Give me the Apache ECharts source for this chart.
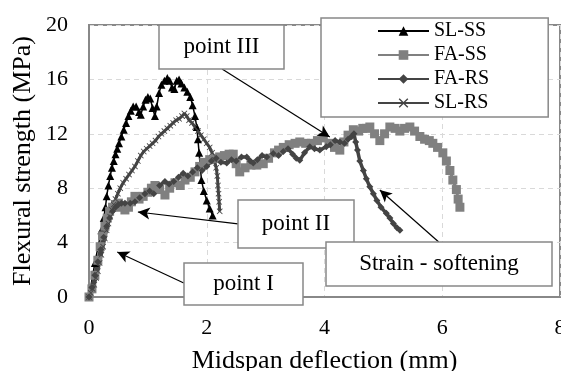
<!DOCTYPE html>
<html>
<head>
<meta charset="utf-8">
<script src="https://cdn.jsdelivr.net/npm/echarts@6/dist/echarts.min.js"></script>
<style>
  html, body { margin: 0; padding: 0; background: #fff; }
  #charts { width: 561px; height: 371px; }
</style>
</head>
<body>
<div id="charts"></div>
<script>
// axis ticks
var xTicks = [0, 2, 4, 6, 8];
var yTicks = [0, 4, 8, 12, 16, 20];

var names = ['SL-SS', 'FA-SS', 'FA-RS', 'SL-RS'];

// [deflection mm, strength MPa]
var slSS = [[0,0],[0.1,2.5],[0.21,4.9],[0.25,5.8],[0.28,6.6],[0.3,7.4],[0.33,8.2],[0.36,8.9],[0.39,9.5],[0.42,10.0],
  [0.45,10.5],[0.48,10.9],[0.51,11.3],[0.55,11.8],[0.59,12.3],[0.63,12.8],[0.67,13.3],[0.71,13.7],[0.75,14.0],[0.8,14.0],
  [0.85,13.6],[0.88,13.4],[0.92,14.0],[0.96,14.5],[1.0,14.7],[1.04,14.6],[1.08,13.9],[1.12,13.3],[1.15,14.0],[1.19,15.0],
  [1.23,15.6],[1.28,15.9],[1.33,16.1],[1.37,15.9],[1.41,15.4],[1.45,15.3],[1.49,15.9],[1.53,16.0],[1.57,15.7],[1.62,15.4],
  [1.67,15.1],[1.72,14.7],[1.76,14.1],[1.8,13.3],[1.83,12.5],[1.85,11.6],[1.87,10.6],[1.89,9.6],[1.91,8.6],[1.95,7.8],
  [2.0,7.1],[2.05,6.5],[2.1,6.0]];

var faSS = [[0,0],[0.05,0.6],[0.1,1.6],[0.15,2.7],[0.19,3.7],[0.23,4.5],[0.27,5.2],[0.31,5.8],[0.35,6.3],[0.4,6.6],
  [0.45,6.8],[0.5,6.9],[0.55,6.6],[0.61,6.4],[0.67,6.6],[0.72,7.0],[0.78,7.4],[0.85,7.2],[0.92,7.4],[1.0,7.7],
  [1.06,8.0],[1.12,8.2],[1.2,7.9],[1.29,7.5],[1.37,8.0],[1.46,8.4],[1.55,8.2],[1.63,8.6],[1.72,8.8],[1.8,9.2],
  [1.88,9.6],[1.95,9.9],[2.05,10.1],[2.15,10.2],[2.22,10.3],[2.3,10.4],[2.38,10.5],[2.45,10.5],[2.5,9.8],[2.56,9.2],
  [2.65,9.5],[2.75,9.7],[2.85,9.7],[2.96,9.8],[3.05,10.2],[3.15,10.6],[3.22,10.8],[3.3,11.0],[3.4,11.2],[3.5,11.3],
  [3.58,11.4],[3.68,11.3],[3.78,11.3],[3.88,11.5],[3.98,11.7],[4.08,11.3],[4.17,11.0],[4.26,10.8],[4.33,11.4],[4.4,11.9],
  [4.49,12.3],[4.58,12.2],[4.65,12.4],[4.71,12.4],[4.77,12.5],[4.85,12.0],[4.94,11.5],[5.02,12.0],[5.11,12.5],[5.2,12.4],
  [5.28,12.2],[5.36,12.4],[5.45,12.5],[5.53,12.2],[5.62,11.8],[5.7,11.6],[5.78,11.5],[5.84,11.3],[5.92,11.0],[6.01,10.6],
  [6.07,10.0],[6.13,9.3],[6.18,8.6],[6.24,7.9],[6.27,7.2],[6.3,6.6]];

var faRS = [[0,0],[0.05,0.7],[0.1,1.6],[0.15,2.6],[0.2,3.5],[0.25,4.4],[0.3,5.2],[0.35,5.8],[0.4,6.3],[0.45,6.6],
  [0.5,6.8],[0.55,6.9],[0.61,6.9],[0.7,6.9],[0.78,7.0],[0.86,7.3],[0.95,7.6],[1.03,7.8],[1.1,7.6],[1.2,8.2],
  [1.29,8.5],[1.36,8.3],[1.44,8.5],[1.52,8.8],[1.6,9.1],[1.68,8.9],[1.76,9.2],[1.84,9.5],[1.92,9.3],[2.0,9.6],
  [2.08,10.0],[2.16,10.2],[2.24,9.9],[2.34,9.85],[2.42,10.1],[2.5,10.0],[2.59,10.3],[2.68,10.3],[2.74,10.0],[2.79,9.85],
  [2.86,10.1],[2.94,10.4],[3.02,10.3],[3.13,10.55],[3.22,10.4],[3.3,10.7],[3.38,10.9],[3.46,10.5],[3.52,10.2],[3.58,10.05],
  [3.66,10.6],[3.75,11.05],[3.83,10.9],[3.92,10.8],[4.03,11.05],[4.1,11.2],[4.18,11.5],[4.26,11.4],[4.34,11.3],[4.4,11.6],
  [4.46,11.8],[4.5,12.0],[4.53,11.4],[4.56,10.8],[4.6,10.0],[4.66,9.3],[4.71,8.7],[4.77,8.1],[4.83,7.6],[4.89,7.1],
  [4.96,6.6],[5.05,6.15],[5.11,5.8],[5.17,5.4],[5.23,5.1],[5.28,4.9]];

var slRS = [[0,0],[0.03,0.3],[0.06,0.6],[0.09,0.9],[0.12,1.4],[0.15,1.9],[0.18,2.5],[0.21,3.1],[0.24,3.7],[0.27,4.3],
  [0.3,4.9],[0.33,5.4],[0.36,5.9],[0.39,6.4],[0.42,6.8],[0.45,7.2],[0.49,7.6],[0.53,8.0],[0.58,8.4],[0.63,8.7],
  [0.68,9.0],[0.73,9.3],[0.78,9.6],[0.83,10.0],[0.88,10.4],[0.93,10.7],[0.98,10.9],[1.03,11.1],[1.08,11.3],[1.13,11.5],
  [1.18,11.8],[1.23,12.0],[1.28,12.2],[1.33,12.4],[1.38,12.6],[1.43,12.8],[1.48,13.0],[1.53,13.1],[1.58,13.3],[1.62,13.5],
  [1.66,13.3],[1.7,13.0],[1.75,12.8],[1.8,12.5],[1.85,12.2],[1.9,11.9],[1.95,11.6],[2.0,11.3],[2.05,11.0],[2.09,10.6],
  [2.13,10.1],[2.16,9.5],[2.18,8.9],[2.19,8.2],[2.2,7.6],[2.21,7.0],[2.22,6.3]];

var notes = ['point III', 'point II', 'point I', 'Strain - softening'];

var FONT = 'Liberation Serif';
var cross = 'path://M0,1L1,0L5,4L9,0L10,1L6,5L10,9L9,10L5,6L1,10L0,9L4,5Z';

function box(x, y, w, h, label) {
    return [
        { type: 'rect', z: 100, shape: { x: x, y: y, width: w, height: h },
          style: { fill: '#fff', stroke: '#888', lineWidth: 1.5 } },
        { type: 'text', z: 101, x: x + w / 2, y: y + h / 2,
          style: { text: label, font: '23px "' + FONT + '"', fill: '#000', align: 'center', verticalAlign: 'middle' } }
    ];
}

var myChart = echarts.init(document.getElementById('charts'));

var option = {
    animation: false,
    backgroundColor: '#fff',
    grid: { left: 89, right: 1, top: 25, bottom: 74, outerBoundsMode: 'none', containLabel: false,
            show: true, borderColor: '#888', borderWidth: 2, backgroundColor: '#fff' },
    legend: {
        data: names,
        orient: 'vertical',
        left: 321, top: 18,
        padding: [3, 59, 4, 56],
        itemGap: 4,
        itemWidth: 51, itemHeight: 12,
        backgroundColor: '#fff',
        borderColor: '#888', borderWidth: 1.5,
        textStyle: { fontFamily: FONT, fontSize: 20, color: '#000', lineHeight: 20 },
        z: 50
    },
    xAxis: {
        type: 'value',
        min: xTicks[0], max: xTicks[xTicks.length - 1], interval: xTicks[1] - xTicks[0],
        name: 'Midspan deflection (mm)', nameLocation: 'middle', nameGap: 51, nameMoveOverlap: false,
        nameTextStyle: { fontFamily: FONT, fontSize: 26, color: '#000' },
        axisLine: { show: true, lineStyle: { color: '#888', width: 2 } },
        axisTick: { show: false },
        axisLabel: { fontFamily: FONT, fontSize: 22, color: '#000', margin: 20 },
        splitLine: { show: true, lineStyle: { color: '#d9d9d9', type: [5, 4], width: 1 } }
    },
    yAxis: {
        type: 'value',
        min: yTicks[0], max: yTicks[yTicks.length - 1], interval: yTicks[1] - yTicks[0],
        name: 'Flexural strength (MPa)', nameLocation: 'middle', nameGap: 53, nameMoveOverlap: false,
        nameTextStyle: { fontFamily: FONT, fontSize: 26, color: '#000' },
        axisLine: { show: true, lineStyle: { color: '#888', width: 2 } },
        axisTick: { show: false },
        axisLabel: { fontFamily: FONT, fontSize: 22, color: '#000', margin: 21 },
        splitLine: { show: true, lineStyle: { color: '#d9d9d9', type: [5, 4], width: 1 } }
    },
    series: [
        { name: names[0], type: 'line', data: slSS, symbol: 'triangle', symbolSize: 8,
          lineStyle: { color: '#000', width: 1.5 }, itemStyle: { color: '#000' } },
        { name: names[1], type: 'line', data: faSS, symbol: 'rect', symbolSize: 9,
          lineStyle: { color: '#808080', width: 3 }, itemStyle: { color: '#808080' } },
        { name: names[2], type: 'line', data: faRS, symbol: 'diamond', symbolSize: 7,
          lineStyle: { color: '#444', width: 3.5 }, itemStyle: { color: '#444' } },
        { name: names[3], type: 'line', data: slRS, symbol: cross, symbolSize: 6,
          lineStyle: { color: '#444', width: 3 }, itemStyle: { color: '#444' },
          markLine: {
              silent: true, symbol: ['none', 'arrow'], symbolSize: [9, 12],
              label: { show: false },
              lineStyle: { color: '#000', width: 1.2, type: 'solid' },
              data: [
                  [{ coord: [2.26, 16.76] }, { coord: [4.09, 11.76] }],
                  [{ coord: [2.53, 5.37] }, { coord: [0.83, 6.25] }],
                  [{ coord: [1.61, 1.03] }, { coord: [0.48, 3.31] }],
                  [{ coord: [5.94, 4.04] }, { coord: [4.94, 7.87] }]
              ]
          } }
    ],
    graphic: [].concat(
        box(159, 25, 125, 44, notes[0]),
        box(238, 200, 116, 48, notes[1]),
        box(184, 263, 119, 42, notes[2]),
        box(326, 242, 226, 44, notes[3])
    )
};

myChart.setOption(option);
</script>
</body>
</html>
